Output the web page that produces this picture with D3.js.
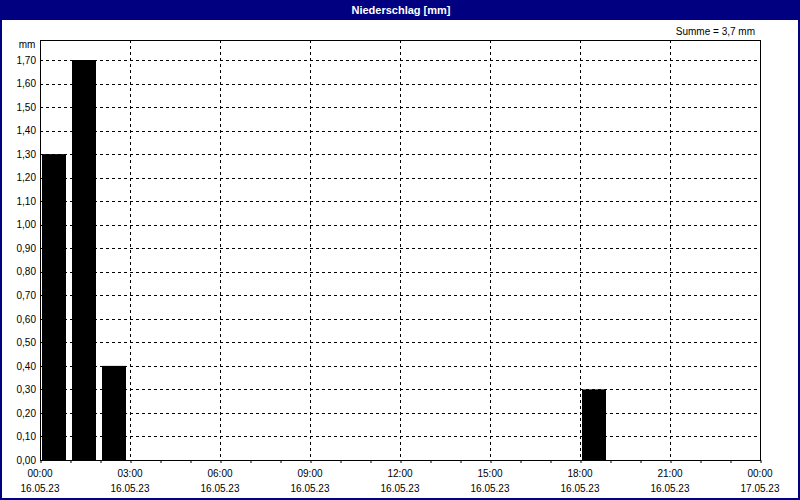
<!DOCTYPE html>
<html lang="de">
<head>
<meta charset="UTF-8">
<title>Niederschlag [mm]</title>
<script src="https://d3js.org/d3.v7.min.js"></script>
<style>
    body { margin: 0; background: #fff; }
    svg { display: block; }
    text { font-family: "Liberation Sans", Arial, sans-serif; font-size: 10px; fill: #000; }
</style>
</head>
<body>
<div id="chart"></div>
<script>
// Daten: Stundenwerte Niederschlag (mm)
const barHours = [0, 1, 2, 18];
const barValues = [1.30, 1.70, 0.40, 0.30];
const yTicks = [0, 0.1, 0.2, 0.3, 0.4, 0.5, 0.6, 0.7, 0.8, 0.9, 1.0, 1.1, 1.2, 1.3, 1.4, 1.5, 1.6, 1.7];
const xLabelHours = [0, 3, 6, 9, 12, 15, 18, 21, 24];
const xTimeLabels = ["00:00", "03:00", "06:00", "09:00", "12:00", "15:00", "18:00", "21:00", "00:00"];
const xDateLabels = ["16.05.23", "16.05.23", "16.05.23", "16.05.23", "16.05.23", "16.05.23", "16.05.23", "16.05.23", "17.05.23"];
const sumText = "Summe = 3,7 mm";

const width = 800, height = 500;
const plotL = 40, plotR = 760, plotT = 40, plotB = 460;

const svg = d3.select("#chart").append("svg")
  .attr("width", width)
  .attr("height", height);

// Rahmen + Titelleiste
svg.append("rect")
  .attr("x", 1).attr("y", 1).attr("width", width - 2).attr("height", height - 2)
  .attr("fill", "#fff").attr("stroke", "#000080").attr("stroke-width", 2);
svg.append("rect")
  .attr("x", 0).attr("y", 0).attr("width", width).attr("height", 20)
  .attr("fill", "#000080");
svg.append("text")
  .attr("x", 401).attr("y", 14)
  .attr("text-anchor", "middle")
  .style("font-weight", "bold")
  .style("font-size", "11px")
  .style("fill", "#fff")
  .text("Niederschlag [mm]");

const x = d3.scaleLinear().domain([0, 24]).range([plotL, plotR]);
const y = d3.scaleLinear().domain([0, 1.785]).range([plotB, plotT]);
const fmt = d => d.toFixed(2).replace(".", ",");

// Gitter
svg.append("g")
  .selectAll("line")
  .data(yTicks.filter(d => d > 0))
  .join("line")
  .attr("x1", plotL).attr("x2", plotR)
  .attr("y1", d => Math.round(y(d)) + 0.5).attr("y2", d => Math.round(y(d)) + 0.5)
  .attr("stroke", "#000").attr("stroke-dasharray", "3,3");

svg.append("g")
  .selectAll("line")
  .data(xLabelHours.filter(h => h > 0 && h < 24))
  .join("line")
  .attr("x1", d => x(d) + 0.5).attr("x2", d => x(d) + 0.5)
  .attr("y1", plotT).attr("y2", plotB)
  .attr("stroke", "#000").attr("stroke-dasharray", "3,3");

// Balken
svg.append("g")
  .selectAll("rect")
  .data(barHours.map((h, i) => ({ h, v: barValues[i] })))
  .join("rect")
  .attr("x", d => x(d.h) + 2)
  .attr("width", d => x(d.h + 1) - x(d.h) - 6)
  .attr("y", d => y(d.v))
  .attr("height", d => y(0) - y(d.v))
  .attr("fill", "#000");

// Achsen
const yAxis = svg.append("g")
  .attr("transform", `translate(${plotL},0)`)
  .call(d3.axisLeft(y).tickValues(yTicks).tickFormat(fmt).tickSize(0).tickPadding(4));
yAxis.select(".domain").remove();
yAxis.attr("font-family", null).attr("font-size", null);

const xAxis = svg.append("g")
  .attr("transform", `translate(0,${plotB})`)
  .call(d3.axisBottom(x).tickValues(d3.range(0, 25)).tickFormat("").tickSize(3));
xAxis.select(".domain").remove();
xAxis.selectAll("line").attr("stroke", "#000").attr("transform", "translate(0.5,0)");

svg.append("g")
  .selectAll("text")
  .data(xLabelHours)
  .join("text")
  .attr("x", d => x(d))
  .attr("y", 477)
  .attr("text-anchor", "middle")
  .text((d, i) => xTimeLabels[i]);

svg.append("g")
  .selectAll("text")
  .data(xLabelHours)
  .join("text")
  .attr("x", d => x(d))
  .attr("y", 492)
  .attr("text-anchor", "middle")
  .text((d, i) => xDateLabels[i]);

// Plotrahmen
svg.append("rect")
  .attr("x", plotL + 0.5).attr("y", plotT + 0.5)
  .attr("width", plotR - plotL).attr("height", plotB - plotT)
  .attr("fill", "none").attr("stroke", "#000");

svg.append("text")
  .attr("x", 27).attr("y", 48)
  .attr("text-anchor", "middle")
  .text("mm");

svg.append("text")
  .attr("x", 755).attr("y", 35)
  .attr("text-anchor", "end")
  .text(sumText);
</script>
</body>
</html>
